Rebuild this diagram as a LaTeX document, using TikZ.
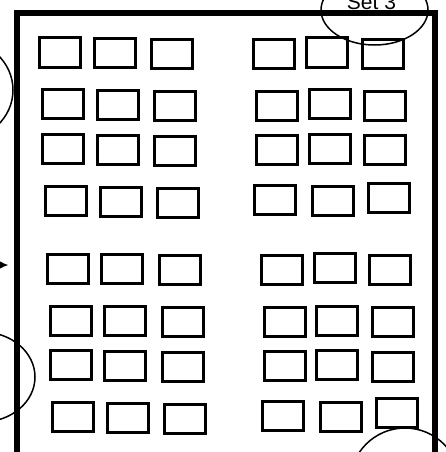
\documentclass[tikz,border=0pt]{standalone}
\usepackage{fontspec}
\setmainfont{Liberation Sans}
\usetikzlibrary{arrows.meta, positioning}

\begin{document}
\begin{tikzpicture}[
    x=1pt, y=-1pt,
    seat/.style={draw, line width=3pt, minimum width=41pt, minimum height=29pt, inner sep=0pt},
    hall/.style={line width=6pt},
    zone/.style={line width=1.5pt},
    arrow/.style={-{Latex[length=9pt, width=8pt]}, line width=1.5pt}
]
  \useasboundingbox (0,0) rectangle (446,452);
  \draw[hall] (17,13) rectangle (434.5,454.5);

  \node[seat] (l11) at (59.5,52.5) {};
  \node[seat] (l12) at (114.5,53) {};
  \node[seat] (l13) at (171.7,54.2) {};
  \node[seat] (l21) at (62.8,104.3) {};
  \node[seat] (l22) at (117.5,104.8) {};
  \node[seat] (l23) at (174.7,106.2) {};
  \node[seat] (l31) at (62.8,148.8) {};
  \node[seat] (l32) at (117.5,149.7) {};
  \node[seat] (l33) at (174.7,151) {};
  \node[seat] (l41) at (65.8,200.5) {};
  \node[seat] (l42) at (120.5,201.7) {};
  \node[seat] (l43) at (177.5,202.5) {};
  \node[seat] (l51) at (67.8,268.5) {};
  \node[seat] (l52) at (121.7,269.3) {};
  \node[seat] (l53) at (179.5,269.8) {};
  \node[seat] (l61) at (70.5,320.8) {};
  \node[seat] (l62) at (124.7,320.8) {};
  \node[seat] (l63) at (182.5,321.8) {};
  \node[seat] (l71) at (70.5,364.8) {};
  \node[seat] (l72) at (124.7,365.5) {};
  \node[seat] (l73) at (182.5,366.7) {};
  \node[seat] (l81) at (73.3,416.8) {};
  \node[seat] (l82) at (127.8,418) {};
  \node[seat] (l83) at (185.3,419) {};

  \node[seat] (r11) at (274.3,54.2) {};
  \node[seat] (r12) at (326.8,52.5) {};
  \node[seat] (r13) at (382.8,53.8) {};
  \node[seat] (r21) at (277.2,105.5) {};
  \node[seat] (r22) at (329.7,103.8) {};
  \node[seat] (r23) at (385,105.8) {};
  \node[seat] (r31) at (277.2,149.7) {};
  \node[seat] (r32) at (329.7,148.5) {};
  \node[seat] (r33) at (385,150.3) {};
  \node[seat] (r41) at (275.3,199.7) {};
  \node[seat] (r42) at (333,201.2) {};
  \node[seat] (r43) at (388.7,197.5) {};
  \node[seat] (r51) at (281.5,269.7) {};
  \node[seat] (r52) at (334.8,268.2) {};
  \node[seat] (r53) at (390.2,270) {};
  \node[seat] (r61) at (284.7,321.5) {};
  \node[seat] (r62) at (337.2,320.7) {};
  \node[seat] (r63) at (393.3,321.8) {};
  \node[seat] (r71) at (284.7,365.5) {};
  \node[seat] (r72) at (337.2,364.8) {};
  \node[seat] (r73) at (393.3,366.7) {};
  \node[seat] (r81) at (283.3,415.7) {};
  \node[seat] (r82) at (340.5,416.5) {};
  \node[seat] (r83) at (396.7,413.3) {};

  \draw[zone] (374.5,10) ellipse [x radius=53.5pt, y radius=35pt];
  \node[anchor=base, inner sep=0pt, font=\fontsize{21}{25}\selectfont] (set3) at (371.5,10) {Set 3};
  \draw[zone] (-40,90) ellipse [x radius=53pt, y radius=50pt];
  \draw[zone] (-18,377) ellipse [x radius=53pt, y radius=45pt];
  \draw[zone] (405,483) ellipse [x radius=55pt, y radius=55pt];

  \coordinate (feed) at (-30,265);
  \coordinate (door) at (8.5,265);
  \draw[arrow] (feed) -- (door);
\end{tikzpicture}
\end{document}
